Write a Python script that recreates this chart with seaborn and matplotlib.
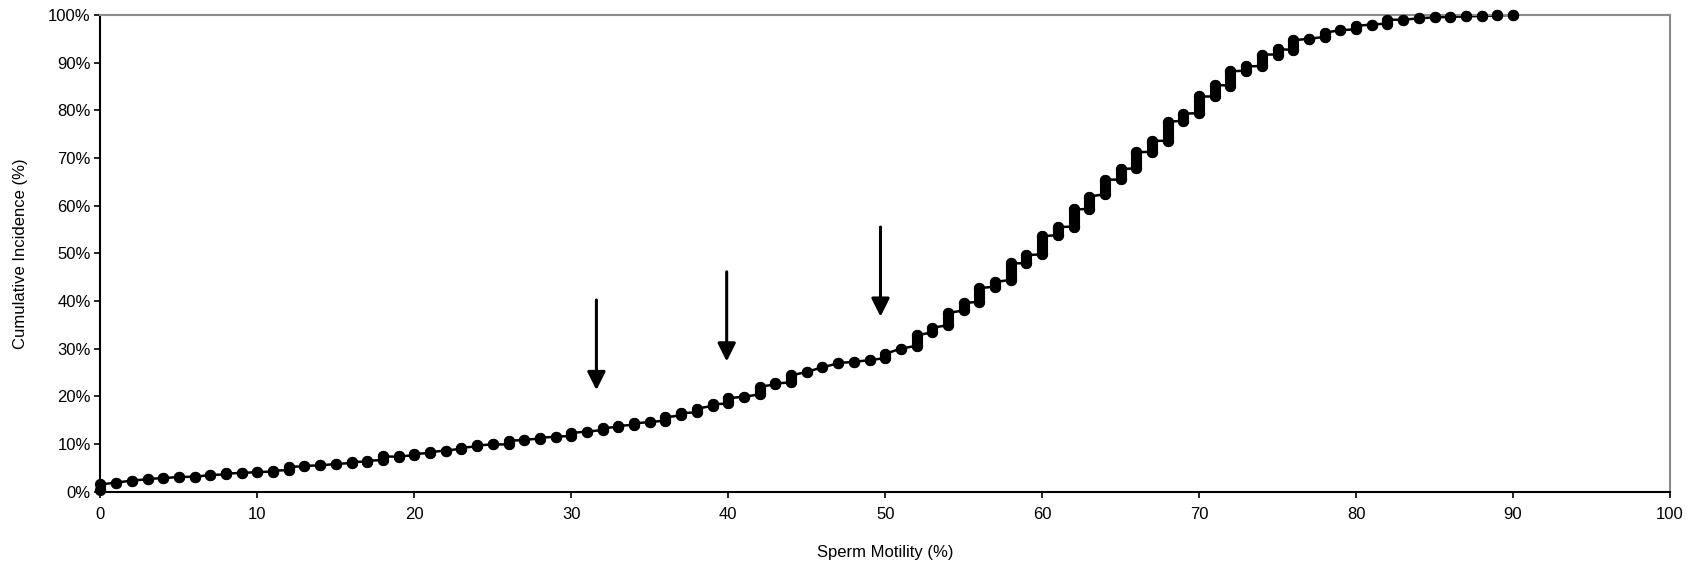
import matplotlib
matplotlib.use("Agg")
import matplotlib.pyplot as plt
import seaborn as sns
import pandas as pd
from matplotlib.ticker import FuncFormatter

# ---- data ----
motility = list(range(0, 91))
cum_low = [0.3, 1.9, 2.3, 2.6, 2.8, 3.1, 3.1, 3.5, 3.6, 3.9,
           4.1, 4.2, 4.5, 5.3, 5.5, 5.8, 6.0, 6.3, 6.6, 7.3,
           7.6, 8.1, 8.6, 9.0, 9.5, 9.9, 9.9, 10.8, 11.1, 11.5,
           11.7, 12.6, 12.9, 13.6, 14.0, 14.6, 14.9, 16.0, 16.6, 18.0,
           18.5, 19.9, 20.4, 22.5, 22.9, 25.1, 26.1, 26.9, 27.2, 27.6,
           28.0, 30.0, 30.6, 33.4, 34.9, 38.0, 39.8, 43.0, 44.4, 47.9,
           49.8, 53.8, 55.6, 59.3, 62.4, 65.5, 67.8, 71.3, 73.6, 77.8,
           79.4, 82.9, 85.2, 88.3, 89.3, 91.7, 92.7, 95.0, 95.4, 96.8,
           97.0, 98.0, 98.2, 99.0, 99.3, 99.5, 99.6, 99.7, 99.8, 99.9,
           100.0]
cum_high = [1.5, 1.9, 2.3, 2.7, 2.8, 3.1, 3.1, 3.5, 3.8, 3.9,
            4.1, 4.4, 5.2, 5.4, 5.5, 5.8, 6.2, 6.5, 7.4, 7.4,
            7.9, 8.3, 8.6, 9.2, 9.7, 9.9, 10.7, 10.9, 11.3, 11.5,
            12.3, 12.6, 13.3, 13.8, 14.3, 14.6, 15.6, 16.5, 17.4, 18.3,
            19.6, 19.9, 22.0, 22.7, 24.4, 25.1, 26.1, 27.0, 27.2, 27.6,
            28.9, 30.0, 32.8, 34.4, 37.5, 39.6, 42.7, 44.0, 47.9, 49.6,
            53.6, 55.5, 59.2, 61.9, 65.4, 67.7, 71.2, 73.6, 77.6, 79.3,
            82.9, 85.3, 88.2, 89.2, 91.7, 92.8, 94.7, 95.0, 96.3, 96.8,
            97.7, 98.0, 99.0, 99.0, 99.3, 99.5, 99.6, 99.7, 99.8, 99.9,
            100.0]
# arrows: (x, tail y, head y)
arrow_x = [31.6, 39.9, 49.7]
arrow_tail = [40.2, 46.1, 55.5]
arrow_head = [21.3, 27.3, 36.7]

x_ticks = list(range(0, 101, 10))
y_ticks = list(range(0, 101, 10))
x_label = "Sperm Motility (%)"
y_label = "Cumulative Incidence (%)"

# ---- build long table ----
rows = []
for x, lo, hi in zip(motility, cum_low, cum_high):
    rows.append({"x": x, "y": lo})
    rows.append({"x": x, "y": hi})
df = pd.DataFrame(rows)

sns.set_theme(style="white")
plt.rcParams["font.family"] = ["Liberation Sans", "DejaVu Sans"]

fig = plt.figure(figsize=(16.94, 5.65), dpi=100)
ax = fig.add_axes([0.0593, 0.1299, 0.9265, 0.8436])

# connecting line
sns.lineplot(data=df, x="x", y="y", sort=False, estimator=None, color="black",
             linewidth=1.8, ax=ax, zorder=2)
# vertical stacks of points (pills)
sns.lineplot(data=df, x="x", y="y", units="x", estimator=None, sort=False,
             color="black", linewidth=8.0, solid_capstyle="round", ax=ax,
             zorder=3, legend=False)
# individual markers
sns.scatterplot(data=df, x="x", y="y", color="black", s=66, linewidth=0,
                marker="o", ax=ax, zorder=4, clip_on=False)

for xa, yt, yh in zip(arrow_x, arrow_tail, arrow_head):
    ax.annotate("", xy=(xa, yh), xytext=(xa, yt),
                arrowprops=dict(arrowstyle="-|>,head_length=1.1,head_width=0.55",
                                mutation_scale=10, lw=2.2, color="black",
                                shrinkA=0, shrinkB=0))

ax.set_xlim(0, 100)
ax.set_ylim(0, 100)
ax.set_xticks(x_ticks)
ax.set_yticks(y_ticks)
ax.yaxis.set_major_formatter(FuncFormatter(lambda v, p: f"{int(round(v))}%"))

for side in ["left", "bottom"]:
    ax.spines[side].set_color("black")
    ax.spines[side].set_linewidth(1.5)
for side in ["top", "right"]:
    ax.spines[side].set_color("#8a8a8a")
    ax.spines[side].set_linewidth(1.5)
    ax.spines[side].set_visible(True)

ax.tick_params(axis="x", which="major", direction="out", length=4, width=1.2,
               color="black", labelsize=12, pad=7, bottom=True)
ax.tick_params(axis="y", which="major", direction="out", length=4, width=1.2,
               color="black", labelsize=12, pad=3, left=True)
for lab in ax.get_xticklabels() + ax.get_yticklabels():
    lab.set_color("black")

ax.set_xlabel(x_label, fontsize=12, color="black")
ax.set_ylabel(y_label, fontsize=12, color="black")
ax.xaxis.set_label_coords(0.5, -0.112)
ax.yaxis.set_label_coords(-0.046, 0.5)
ax.grid(False)

fig.savefig("out.png", dpi=100, facecolor="white")
